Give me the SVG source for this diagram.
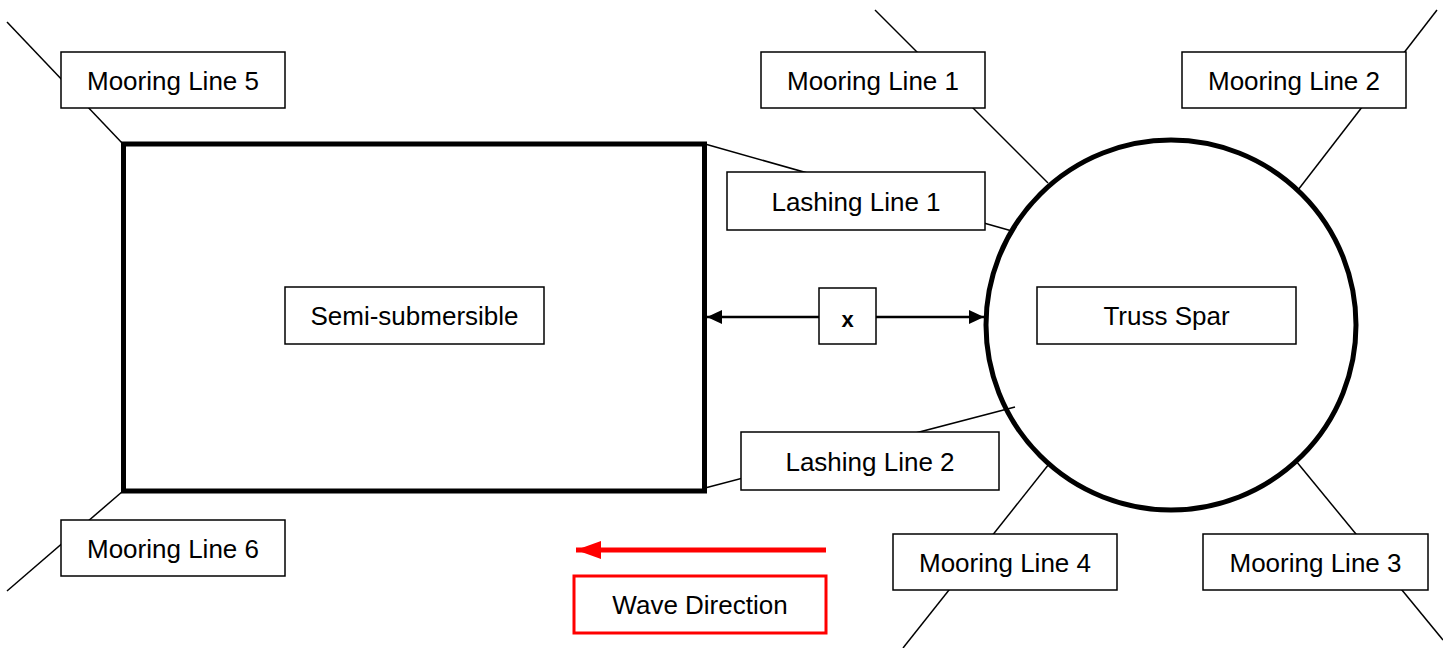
<svg xmlns="http://www.w3.org/2000/svg" width="1443" height="648" viewBox="0 0 1443 648">
<style>
.lbl{fill:#fff;stroke:#000;stroke-width:1.5}
.t{font-family:"Liberation Sans",Arial,sans-serif;font-size:26px;fill:#000;text-anchor:middle}
.ln{stroke:#000;stroke-width:1.5;fill:none}
</style>
<defs>
<marker id="ah" markerUnits="userSpaceOnUse" markerWidth="16" markerHeight="16" viewBox="0 0 16 16" refX="15" refY="8" orient="auto-start-reverse">
<path d="M0,1 L15,8 L0,15 Z" fill="#000"/>
</marker>
<marker id="rah" markerUnits="userSpaceOnUse" markerWidth="26" markerHeight="20" viewBox="0 0 26 20" refX="25" refY="10" orient="auto">
<path d="M0,1 L25,10 L0,19 Z" fill="#f00"/>
</marker>
</defs>
<rect width="1443" height="648" fill="#fff"/>
<g id="connectors">
<line class="ln" x1="7" y1="22" x2="123" y2="144"/>
<line class="ln" x1="123" y1="491" x2="7" y2="591"/>
<line class="ln" x1="875" y1="10" x2="1048" y2="183"/>
<line class="ln" x1="1437" y1="10" x2="1298" y2="190"/>
<line class="ln" x1="1296" y1="461" x2="1443" y2="640"/>
<line class="ln" x1="1049" y1="464" x2="903" y2="648"/>
<line class="ln" x1="705" y1="144" x2="1012" y2="231"/>
<line class="ln" x1="705" y1="488" x2="1015" y2="407"/>
<line stroke="#000" stroke-width="2.5" x1="707" y1="317" x2="984" y2="317" marker-start="url(#ah)" marker-end="url(#ah)"/>
<line stroke="#f00" stroke-width="5" x1="826" y1="550" x2="576" y2="550" marker-end="url(#rah)"/>
</g>
<g id="semi-sub">
<rect x="123.5" y="144" width="581" height="347" fill="none" stroke="#000" stroke-width="5"/>
<rect class="lbl" x="285" y="287" width="259" height="57"/>
<text class="t" x="414.5" y="325">Semi-submersible</text>
</g>
<g id="truss-spar">
<circle cx="1171" cy="325" r="185" fill="none" stroke="#000" stroke-width="5"/>
<rect class="lbl" x="1037" y="287" width="259" height="57"/>
<text class="t" x="1166.5" y="325">Truss Spar</text>
</g>
<g id="x-label">
<rect class="lbl" x="819" y="288" width="57" height="56"/>
<text class="t" x="847.5" y="327" font-weight="bold" style="font-size:22px">x</text>
</g>
<g id="mooring5">
<rect class="lbl" x="61" y="52" width="224" height="56"/>
<text class="t" x="173" y="90">Mooring Line 5</text>
</g>
<g id="mooring6">
<rect class="lbl" x="61" y="520" width="224" height="56"/>
<text class="t" x="173" y="558">Mooring Line 6</text>
</g>
<g id="mooring1">
<rect class="lbl" x="761" y="52" width="224" height="56"/>
<text class="t" x="873" y="90">Mooring Line 1</text>
</g>
<g id="mooring2">
<rect class="lbl" x="1182" y="52" width="224" height="56"/>
<text class="t" x="1294" y="90">Mooring Line 2</text>
</g>
<g id="mooring3">
<rect class="lbl" x="1203" y="534" width="225" height="56"/>
<text class="t" x="1315.5" y="572">Mooring Line 3</text>
</g>
<g id="mooring4">
<rect class="lbl" x="893" y="534" width="224" height="56"/>
<text class="t" x="1005" y="572">Mooring Line 4</text>
</g>
<g id="lashing1">
<rect class="lbl" x="727" y="172" width="258" height="58"/>
<text class="t" x="856" y="211">Lashing Line 1</text>
</g>
<g id="lashing2">
<rect class="lbl" x="741" y="432" width="258" height="58"/>
<text class="t" x="870" y="471">Lashing Line 2</text>
</g>
<g id="wave">
<rect x="574" y="576" width="252" height="57" fill="#fff" stroke="#f00" stroke-width="3"/>
<text class="t" x="700" y="614">Wave Direction</text>
</g>
</svg>
